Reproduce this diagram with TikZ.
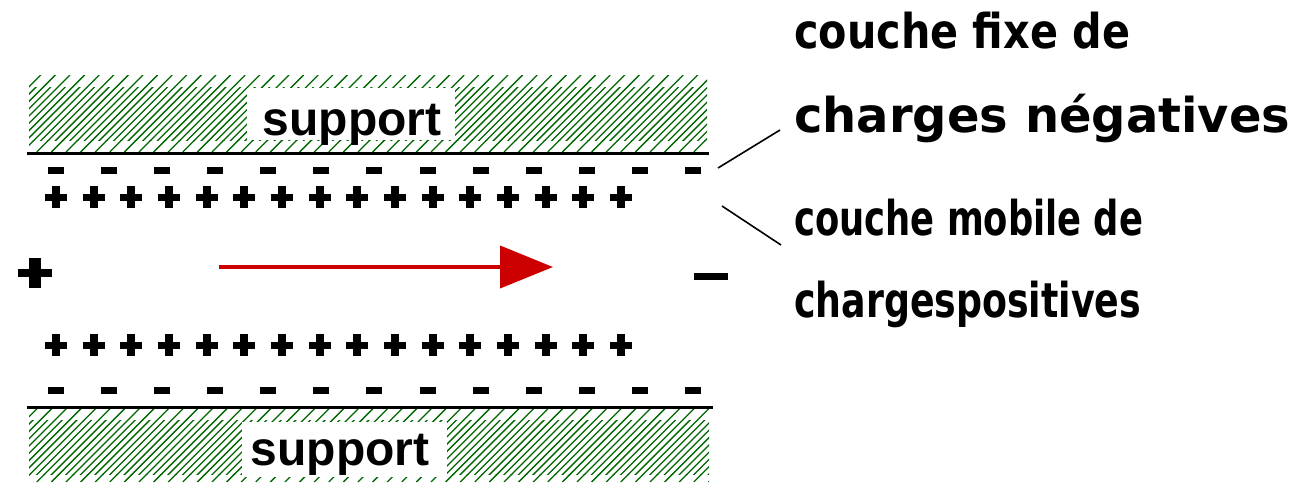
\documentclass[tikz,border=0pt]{standalone}
\usepackage{fontspec}
\usepackage{graphicx}
\usetikzlibrary{arrows.meta}
\newfontfamily\labfont{DejaVu Sans}
\newfontfamily\supfont{Liberation Sans}
\definecolor{hatchgreen}{RGB}{0,102,0}
\definecolor{arrowred}{RGB}{204,0,0}
\newcommand\fitw[2]{\resizebox{#1}{\height}{#2}}
\begin{document}
\begin{tikzpicture}[x=1pt,y=-1pt,
  hatch/.style={draw=hatchgreen,line width=1.3pt},
  wall/.style={draw=black,line width=3pt},
  leader/.style={draw=black,line width=1.6pt},
  flow/.style={draw=arrowred,line width=4pt,-{Triangle[length=53pt,width=42pt]}},
  lab/.style={anchor=base west,inner sep=0pt,font=\labfont\bfseries\fontsize{48}{48}\selectfont},
  supp/.style={anchor=base,inner sep=0pt,font=\supfont\bfseries\fontsize{48}{48}\selectfont},
  pm/.style={fill=black,draw=none}]
\useasboundingbox (0,0) rectangle (1297,482);
% ---------- top support hatching ----------
\begin{scope}
  \clip (29,75) rectangle (707,87) (29,140) rectangle (707,152);
  \foreach \x in {-80,-65.4,...,720} \draw[hatch] (\x,152) -- ++(77,-77);
\end{scope}
\begin{scope}
  \clip (29,87) rectangle (707,140);
  \foreach \x in {-80,-72.7,...,720} \draw[hatch] (\x,152) -- ++(77,-77);
\end{scope}
\fill[white] (247,88) rectangle (455,140);
\node[supp] (suptop) at (352,135) {support};
% ---------- bottom support hatching ----------
\begin{scope}
  \clip (29,408) rectangle (709,420) (29,474) rectangle (709,482);
  \foreach \x in {-80,-65.4,...,720} \draw[hatch] (\x,482) -- ++(74,-74);
\end{scope}
\begin{scope}
  \clip (29,420) rectangle (709,474);
  \foreach \x in {-80,-72.7,...,720} \draw[hatch] (\x,482) -- ++(74,-74);
\end{scope}
\fill[white] (242,422) rectangle (447,477);
\node[supp] (supbot) at (340,465) {support};
% ---------- walls ----------
\coordinate (wt1) at (27,153);
\coordinate (wt2) at (709,153);
\coordinate (wb1) at (27,407);
\coordinate (wb2) at (713,407);
\draw[wall] (wt1) -- (wt2);
\draw[wall] (wb1) -- (wb2);
% ---------- fixed negative charges ----------
\foreach \i in {0,...,12} {
  \fill[pm] ({56+53.08*\i-8},167) rectangle ++(16,7);
  \fill[pm] ({56+53.08*\i-8},387) rectangle ++(16,7);
}
% ---------- mobile positive charges ----------
\foreach \i in {0,...,15} {
  \foreach \yc in {197,345} {
    \fill[pm] ({56+37.67*\i-11},{\yc-3.5}) rectangle ++(22,7);
    \fill[pm] ({56+37.67*\i-4},{\yc-11}) rectangle ++(8,22);
  }
}
% ---------- electrodes ----------
\fill[pm] (18,269) rectangle (52,277);
\fill[pm] (29,258) rectangle (41,288);
\fill[pm] (694,273) rectangle (728,280);
% ---------- flow arrow ----------
\coordinate (a1) at (219,267);
\coordinate (a2) at (553,267);
\draw[flow] (a1) -- (a2);
% ---------- labels ----------
\node[lab] (l1) at (794,48) {\fitw{336pt}{couche fixe de}};
\node[lab] (l2) at (794,132) {\fitw{496pt}{charges négatives}};
\node[lab] (l3) at (794,235) {\fitw{349pt}{couche mobile de}};
\node[lab] (l4) at (794,317) {\fitw{347pt}{chargespositives}};
\coordinate (p1a) at (718,168);
\coordinate (p1b) at (780,130);
\coordinate (p2a) at (722,206);
\coordinate (p2b) at (781,245);
\draw[leader] (p1a) -- (p1b);
\draw[leader] (p2a) -- (p2b);
\end{tikzpicture}
\end{document}
